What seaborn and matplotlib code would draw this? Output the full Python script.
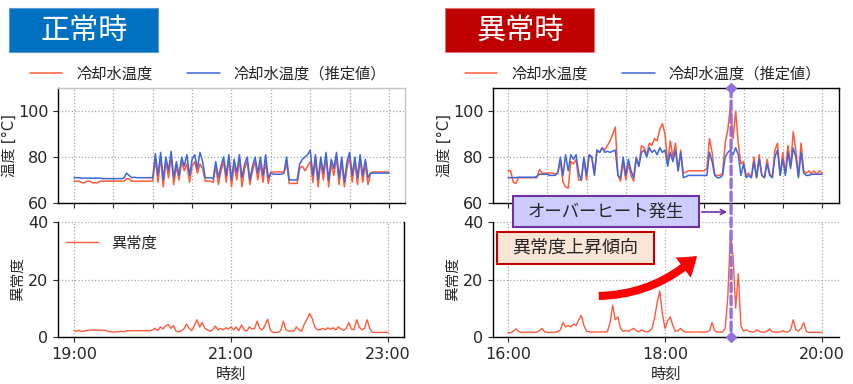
import numpy as np
import pandas as pd
import matplotlib
matplotlib.use('Agg')
import matplotlib.pyplot as plt
import seaborn as sns
from matplotlib.patches import Rectangle, FancyArrowPatch, ConnectionPatch, ArrowStyle

#%% data (minutes after start, every 2 min)
minutes = np.arange(0, 242, 2)

# normal case 19:00 - 23:00
normal_ticks = ['19:00', '21:00', '23:00']
normal_measured = [
    69.5, 69.5, 69.5, 68.8, 68.8, 69.5, 69.5, 68.8, 68.8, 68.8,
    69.5, 69.5, 69.5, 69.5, 69.5, 69.5, 69.5, 69.5, 69.5, 69.5,
    70.5, 70.5, 69.5, 69.5, 69.5, 69.5, 69.5, 69.5, 69.5, 69.5,
    69.5,
    79, 69, 80, 67, 78, 71, 80, 68, 76, 70,
    78, 74, 77, 69, 76, 78, 73, 77, 75, 69.5,
    69.5, 69.5, 69, 76, 68, 74, 78, 69, 79, 67,
    77, 70, 79, 67, 75, 78, 68, 74, 78, 70,
    77, 69, 78, 68.5, 73.5, 73.5, 73.5, 73.5, 73.5, 73.5,
    77, 68.5, 68.5, 68.5, 68.5, 75, 76, 74, 76, 78,
    69, 79, 67, 78, 70, 80, 67, 77, 72, 80,
    68, 78, 67, 75, 80, 69, 78, 68, 79, 69,
    77, 68, 73,
    73.5, 73.5, 73.5, 73.5, 73.5, 73.5, 73.5]
normal_estimated = [
    71.0, 71.0, 71.0, 70.8, 70.8, 70.8, 70.8, 70.8, 70.8, 70.8,
    70.8, 70.6, 70.6, 70.6, 70.6, 70.6, 70.6, 70.6, 70.6, 70.8,
    73.0, 72.0, 71.0, 71.2, 71.0, 71.0, 71.0, 71.0, 71.0, 71.0,
    71.0,
    81.5, 72, 82, 70, 80, 74, 82.5, 71, 78, 72,
    80, 76, 81, 72, 79, 81, 75, 82, 78, 71,
    71, 71, 70.5, 78, 71, 76, 80, 72, 81, 70,
    79, 73, 81, 71, 77, 80, 70, 76, 80, 73,
    80, 72, 81, 71, 73, 72.5, 72.5, 72.5, 72.5, 73,
    80, 70, 70, 70, 70, 77, 79, 80, 81, 83,
    72, 81, 70, 80, 73, 82, 70, 79, 75, 82,
    71, 80, 69, 78, 82, 72, 80, 71, 81, 72,
    79, 71, 73,
    73, 73, 73, 73, 73, 73, 73]
normal_score = [
    2.2, 2.0, 2.3, 1.9, 2.1, 2.3, 2.4, 2.4, 2.4, 2.3,
    2.4, 2.3, 2.3, 2.0, 1.8, 1.7, 1.8, 1.8, 2.0, 1.8,
    2.2, 2.1, 2.2, 2.2, 2.2, 2.2, 2.2, 2.2, 2.2, 2.1,
    2.5, 3.0, 2.2, 3.5, 2.8, 3.8, 4.3, 3.0, 4.0, 2.0,
    1.8, 2.2, 2.8, 4.5, 3.0, 2.2, 4.0, 6.0, 3.5, 5.0,
    3.0, 2.5, 2.0, 2.5, 3.8, 2.5, 3.0, 2.5, 3.2, 2.8,
    3.5, 2.5, 3.5, 2.2, 4.2, 2.5, 2.0, 3.5, 2.8, 3.0,
    5.5, 3.0, 2.5, 4.0, 6.2, 2.5, 1.6, 1.6, 1.6, 2.2,
    5.5, 2.5, 2.0, 2.2, 2.0, 3.5, 2.5, 2.0, 4.5, 6.0,
    8.2, 6.5, 3.5, 2.5, 2.5, 3.0, 2.5, 3.2, 2.7, 3.2,
    2.5, 3.5, 2.8, 2.3, 3.0, 5.0, 2.8, 2.5, 6.0, 3.5,
    2.5, 3.0, 6.0, 3.0,
    1.6, 1.6, 1.6, 1.6, 1.6, 1.6, 1.6]

# abnormal case 16:00 - 20:00
abnormal_ticks = ['16:00', '18:00', '20:00']
abnormal_measured = [
    74, 74, 69, 68.5, 71, 71, 71, 71, 71, 71,
    71, 71, 74.5, 73, 73, 73, 73, 73, 72.5, 73,
    78, 69, 67, 66.5, 78, 77, 79, 70, 70, 79,
    70, 81, 80, 73, 83, 82, 84, 83, 85, 87,
    90, 93, 72, 69.5, 78, 70, 77, 72, 69.5, 79,
    76, 85, 84, 81, 86, 85, 88, 87, 92, 94.5,
    90, 77, 87, 80, 86, 74, 83, 73, 73.5, 74,
    74, 74, 74, 74, 74, 74, 75, 88, 82, 72,
    72, 72, 73, 86, 92, 102, 88, 100, 86, 77,
    78, 72, 73, 71, 80, 71, 81, 72, 71, 79,
    73, 71, 83, 86, 72, 82, 73, 85, 76, 91,
    83, 72, 86, 74, 73, 74, 72.5, 74, 72.5, 74,
    73]
abnormal_estimated = [
    71, 71, 71, 71, 71.2, 71.2, 71.2, 71.2, 71.2, 71.2,
    71.2, 71.5, 72.5, 72.5, 72.5, 72.5, 72, 72, 72, 73,
    80, 72, 81, 74, 81, 79, 81, 73, 70, 80,
    72, 81, 80, 72, 83, 82, 84, 82, 82.5, 82,
    82.5, 83, 72, 71, 80, 72, 79, 74, 71, 80,
    76, 82, 83, 80, 84, 82, 83, 81, 84, 82,
    83, 76, 82, 78, 83, 74, 82, 71, 71.5, 72,
    72, 72, 72, 72, 72, 72, 72, 82, 78, 72,
    71, 71, 72, 80, 82, 83, 81, 84, 81, 72,
    77, 71, 72, 71, 78, 71, 79, 72, 71, 77,
    72, 71, 80, 83, 72, 79, 72, 82, 75, 84,
    80, 71, 82, 73, 72, 72, 72.5, 72.5, 72.5, 72.5,
    72.5]
abnormal_score = [
    1.5, 1.5, 2.0, 2.8, 2.0, 1.6, 1.6, 1.6, 1.7, 1.6,
    1.6, 1.7, 2.2, 3.0, 1.8, 1.6, 1.6, 1.6, 1.7, 1.8,
    2.5, 5.0, 3.5, 4.0, 3.5, 4.5, 4.0, 6.0, 7.5, 4.0,
    2.0, 1.8, 1.7, 1.7, 1.8, 1.7, 1.8, 1.7, 2.0, 5.0,
    11.0, 6.0, 7.0, 3.0, 2.0, 2.3, 2.0, 2.5, 3.0, 2.2,
    1.8, 2.5, 2.0, 1.8, 2.0, 3.0, 6.5, 12.0, 16.0, 8.0,
    3.0, 5.5, 7.0, 4.0, 2.0, 2.2, 3.0, 2.0, 1.7, 1.7,
    1.7, 1.7, 1.8, 1.7, 1.7, 1.7, 1.8, 2.2, 5.0, 2.2,
    1.7, 1.7, 1.8, 3.0, 14.0, 36.0, 28.0, 10.0, 22.0, 4.0,
    2.0, 2.5, 2.0, 1.8, 1.7, 2.5, 2.0, 1.7, 1.7, 2.0,
    2.8, 1.8, 1.7, 1.7, 1.7, 2.2, 1.8, 1.7, 2.5, 6.0,
    2.5, 2.0, 3.0, 5.0, 2.0, 1.6, 1.6, 1.6, 1.6, 1.6,
    1.6]
overheat_time = 170.5  # minutes after 16:00

df_normal = pd.DataFrame({'t': minutes, 'meas': normal_measured,
                          'est': normal_estimated, 'score': normal_score})
df_abnormal = pd.DataFrame({'t': minutes, 'meas': abnormal_measured,
                            'est': abnormal_estimated, 'score': abnormal_score})

#%% style
sns.set_style('ticks')
plt.rcParams['font.family'] = ['DejaVu Sans', 'Noto Sans CJK JP']
red = '#ff5a3c'
blue = '#3f66dd'
purple_line = '#9370db'
grid_kw = dict(linestyle=':', color='#a8a8a8', linewidth=0.9)

fig = plt.figure(figsize=(8.54, 3.84), dpi=100)
W, H = 854, 384


def px_axes(x0, x1, y0, y1):
    return fig.add_axes([x0 / W, 1 - y1 / H, (x1 - x0) / W, (y1 - y0) / H])


ax_lt = px_axes(58, 405, 88, 203)
ax_lb = px_axes(58, 404, 222, 337)
ax_rt = px_axes(493, 839, 88, 203)
ax_rb = px_axes(493, 839, 222, 337)


def draw_panel(ax_t, ax_b, df, ticks, xlim, legend_x, score_legend):
    sns.lineplot(data=df, x='t', y='meas', ax=ax_t, color=red, lw=1.1, label='冷却水温度')
    sns.lineplot(data=df, x='t', y='est', ax=ax_t, color=blue, lw=1.1, label='冷却水温度（推定値）')
    sns.lineplot(data=df, x='t', y='score', ax=ax_b, color=red, lw=1.0, label='異常度')

    ax_t.set_xlim(*xlim)
    ax_t.set_ylim(60, 110)
    ax_t.set_yticks([60, 80, 100])
    ax_t.set_xticks(np.arange(0, 241, 30))
    ax_t.set_xticklabels([])
    ax_t.set_xlabel('')
    ax_t.set_ylabel('温度 [°C]', fontsize=10.5, labelpad=1)
    ax_t.grid(True, **grid_kw)
    ax_t.legend(loc='center', bbox_to_anchor=(legend_x / W, 1 - 74 / H),
                bbox_transform=fig.transFigure, ncol=2, frameon=False, fontsize=11,
                handlelength=2.1, handletextpad=0.9, columnspacing=2.3)

    ax_b.set_xlim(*xlim)
    ax_b.set_ylim(0, 40)
    ax_b.set_yticks([0, 20, 40])
    ax_b.set_xticks([0, 120, 240])
    ax_b.set_xticklabels(ticks)
    ax_b.set_xlabel('時刻', fontsize=11)
    ax_b.set_ylabel('異常度', fontsize=10.5, labelpad=2)
    ax_b.grid(True, **grid_kw)
    ax_b.spines['top'].set_visible(False)
    if score_legend:
        ax_b.legend(loc='upper left', bbox_to_anchor=(0.0, 0.95), frameon=False,
                    fontsize=11, handlelength=2.1, handletextpad=0.9,
                    borderaxespad=0.2, borderpad=0.3)
    else:
        ax_b.get_legend().remove()

    for ax in (ax_t, ax_b):
        ax.tick_params(labelsize=11.5, length=3.5, width=0.8)
        for s in ax.spines.values():
            s.set_linewidth(1.0)
            s.set_color('black')


draw_panel(ax_lt, ax_lb, df_normal, normal_ticks, (-12.2, 252.2), 208, True)
draw_panel(ax_rt, ax_rb, df_abnormal, abnormal_ticks, (-11.5, 253), 643, False)

# left top: light frame on top/right
ax_lt.spines['top'].set_color('#c4c4c4')
ax_lt.spines['right'].set_color('#c4c4c4')
ax_rb.spines['right'].set_visible(False)

#%% title boxes
fig.patches.append(Rectangle((9 / W, 1 - 52 / H), 149 / W, 44 / H, transform=fig.transFigure,
                             facecolor='#0070c0', edgecolor='#5b9bd5', lw=0.8))
fig.text(84 / W, 1 - 31 / H, '正常時', color='white', fontsize=21, ha='center', va='center')
fig.patches.append(Rectangle((445 / W, 1 - 52 / H), 149 / W, 44 / H, transform=fig.transFigure,
                             facecolor='#c00000', edgecolor='#e07070', lw=0.8))
fig.text(520 / W, 1 - 31 / H, '異常時', color='white', fontsize=21, ha='center', va='center')

#%% overheat marker
con = ConnectionPatch(xyA=(overheat_time, 110), coordsA=ax_rt.transData,
                      xyB=(overheat_time, 0), coordsB=ax_rb.transData,
                      color=purple_line, lw=2.4, linestyle=(0, (2.6, 1.3)), zorder=5)
fig.add_artist(con)
ax_rt.plot([overheat_time], [110], marker='D', ms=5, color=purple_line, clip_on=False, zorder=6)
ax_rb.plot([overheat_time], [0], marker='D', ms=5, color=purple_line, clip_on=False, zorder=6)

fig.patches.append(Rectangle((513 / W, 1 - 227 / H), 186 / W, 31 / H, transform=fig.transFigure,
                             facecolor='#ccccff', edgecolor='#7030a0', lw=1.5, zorder=7))
fig.text(606 / W, 1 - 211.5 / H, 'オーバーヒート発生', fontsize=12.5, ha='center', va='center', zorder=8)
fig.add_artist(FancyArrowPatch((699 / W, 1 - 212 / H), (730 / W, 1 - 212 / H),
                               transform=fig.transFigure, arrowstyle='->', mutation_scale=9,
                               color='#7030a0', lw=1.2, zorder=7))

fig.patches.append(Rectangle((497 / W, 1 - 264 / H), 157 / W, 32 / H, transform=fig.transFigure,
                             facecolor='#fbe5d6', edgecolor='#c00000', lw=1.5, zorder=7))
fig.text(575.5 / W, 1 - 248 / H, '異常度上昇傾向', fontsize=13, ha='center', va='center', zorder=8)

fig.add_artist(FancyArrowPatch((596 / W, 1 - 296 / H), (699 / W, 1 - 254 / H),
                               transform=fig.transFigure, connectionstyle='arc3,rad=0.2',
                               arrowstyle=ArrowStyle.Simple(head_length=1.0, head_width=1.4, tail_width=0.45),
                               mutation_scale=13, color='#ff0000', lw=0, zorder=7))

fig.savefig('out.png', dpi=100)
